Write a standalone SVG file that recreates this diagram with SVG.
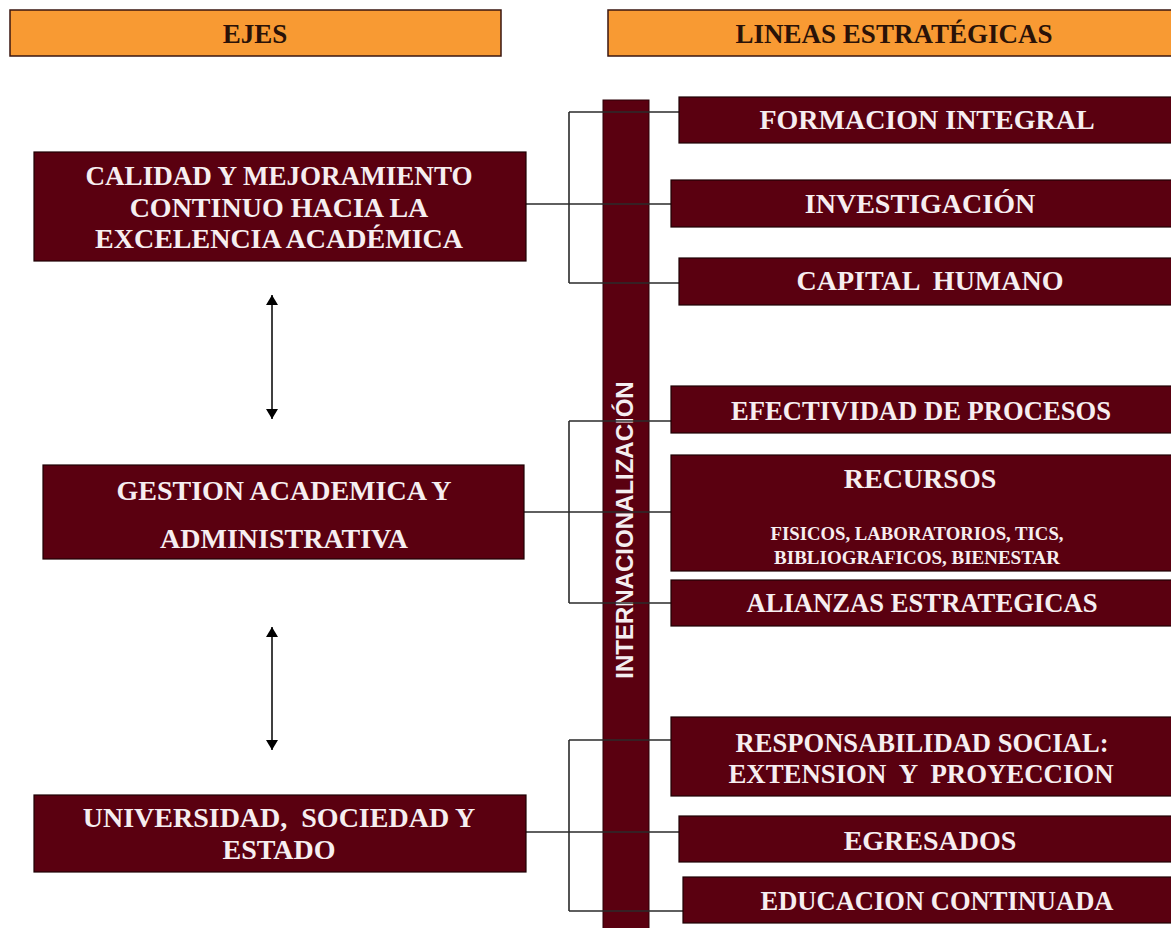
<svg xmlns="http://www.w3.org/2000/svg" width="1171" height="928" viewBox="0 0 1171 928">
<defs>
<style>
.hdr{fill:#f89a33;stroke:#3a1610;stroke-width:1.5}
.hdrt{font-family:"Liberation Serif","Times New Roman",serif;font-weight:bold;font-size:27px;fill:#2a1208;text-anchor:middle}
.box{fill:#5a0010;stroke:#1e0004;stroke-width:1.2}
.t{font-family:"Liberation Serif","Times New Roman",serif;font-weight:bold;font-size:28px;fill:#f6eef0;text-anchor:middle}
.s{font-family:"Liberation Serif","Times New Roman",serif;font-weight:bold;font-size:19px;fill:#f6eef0;text-anchor:middle}
.c{fill:none;stroke:#2b2b2b;stroke-width:1.6}
.a{fill:none;stroke:#000;stroke-width:1.5}
.bar{fill:#5a0010;stroke:#2a0006;stroke-width:1}
.bt{font-family:"Liberation Sans",Arial,sans-serif;font-weight:bold;font-size:24px;fill:#f4eef0;text-anchor:middle}
</style>
<marker id="ah" viewBox="0 0 10 12" refX="10" refY="6" markerWidth="10" markerHeight="12" markerUnits="userSpaceOnUse" orient="auto-start-reverse">
<path d="M0,0 L10,6 L0,12 Z" fill="#000"/>
</marker>
</defs>
<rect width="1171" height="928" fill="#fff"/>

<g id="hdr-ejes"><rect class="hdr" x="10" y="10" width="491" height="46"/><text class="hdrt" x="255" y="43">EJES</text></g>
<g id="hdr-lineas"><rect class="hdr" x="608" y="10" width="570" height="46"/><text class="hdrt" x="894" y="43">LINEAS ESTRATÉGICAS</text></g>

<g id="internacionalizacion"><rect class="bar" x="603" y="100" width="46" height="840"/><text class="bt" transform="translate(633,530) rotate(-90)">INTERNACIONALIZACIÓN</text></g>

<g id="connectors">
<path class="c" d="M526,204 H671 M569,112 V283 M569,112 H679 M569,283 H679"/>
<path class="c" d="M524,512 H671 M569,421 V603 M569,421 H671 M569,603 H671"/>
<path class="c" d="M526,832 H679 M569,740 V911 M569,740 H671 M569,911 H683"/>
<line class="a" x1="272" y1="295" x2="272" y2="419" marker-start="url(#ah)" marker-end="url(#ah)"/>
<line class="a" x1="272" y1="627" x2="272" y2="750" marker-start="url(#ah)" marker-end="url(#ah)"/>
</g>

<g id="calidad"><rect class="box" x="34" y="152" width="492" height="109"/>
<text class="t" x="279" y="185" textLength="387" lengthAdjust="spacingAndGlyphs">CALIDAD Y MEJORAMIENTO</text>
<text class="t" x="279" y="217">CONTINUO HACIA LA</text>
<text class="t" x="279" y="248">EXCELENCIA ACADÉMICA</text></g>

<g id="gestion"><rect class="box" x="43" y="465" width="481" height="94"/>
<text class="t" x="284" y="500">GESTION ACADEMICA Y</text>
<text class="t" x="284" y="548">ADMINISTRATIVA</text></g>

<g id="universidad"><rect class="box" x="34" y="795" width="492" height="77"/>
<text class="t" x="279" y="827" xml:space="preserve">UNIVERSIDAD,  SOCIEDAD Y</text>
<text class="t" x="279" y="859">ESTADO</text></g>

<g id="formacion"><rect class="box" x="679" y="97" width="500" height="46"/><text class="t" x="927" y="129">FORMACION INTEGRAL</text></g>
<g id="investigacion"><rect class="box" x="671" y="180" width="508" height="47"/><text class="t" x="920" y="213">INVESTIGACIÓN</text></g>
<g id="capital"><rect class="box" x="679" y="258" width="500" height="47"/><text class="t" x="930" y="290" xml:space="preserve">CAPITAL  HUMANO</text></g>

<g id="efectividad"><rect class="box" x="671" y="386" width="508" height="47"/><text class="t" x="921" y="420" textLength="380" lengthAdjust="spacingAndGlyphs">EFECTIVIDAD DE PROCESOS</text></g>
<g id="recursos"><rect class="box" x="671" y="455" width="508" height="116"/>
<text class="t" x="920" y="488">RECURSOS</text>
<text class="s" x="917" y="540" textLength="293" lengthAdjust="spacingAndGlyphs">FISICOS, LABORATORIOS, TICS,</text>
<text class="s" x="917" y="564">BIBLIOGRAFICOS, BIENESTAR</text></g>
<g id="alianzas"><rect class="box" x="671" y="580" width="508" height="46"/><text class="t" x="922" y="612" textLength="351" lengthAdjust="spacingAndGlyphs">ALIANZAS ESTRATEGICAS</text></g>

<g id="responsabilidad"><rect class="box" x="671" y="717" width="508" height="79"/>
<text class="t" x="922" y="752" textLength="373" lengthAdjust="spacingAndGlyphs">RESPONSABILIDAD SOCIAL:</text>
<text class="t" x="921" y="783" xml:space="preserve" textLength="385" lengthAdjust="spacingAndGlyphs">EXTENSION  Y  PROYECCION</text></g>
<g id="egresados"><rect class="box" x="679" y="816" width="500" height="46"/><text class="t" x="930" y="850">EGRESADOS</text></g>
<g id="educacion"><rect class="box" x="683" y="877" width="496" height="46"/><text class="t" x="937" y="910" textLength="353" lengthAdjust="spacingAndGlyphs">EDUCACION CONTINUADA</text></g>
</svg>
